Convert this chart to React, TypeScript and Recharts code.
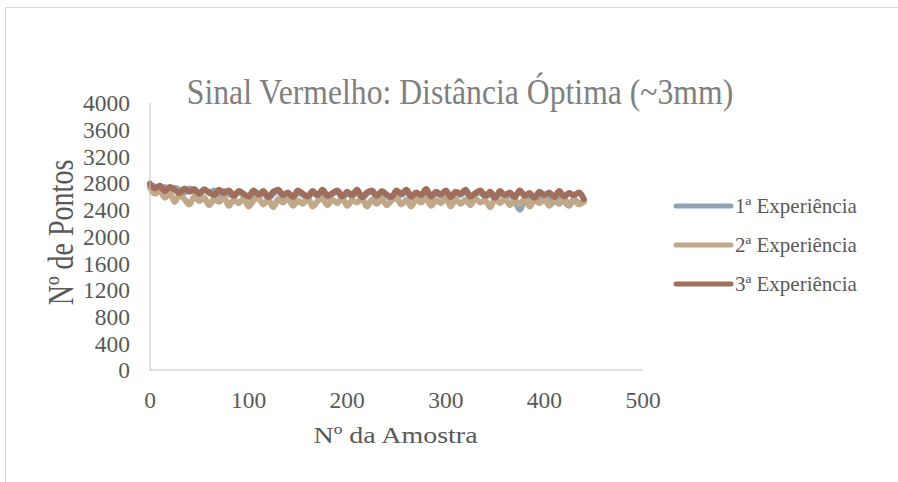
import React from "react";
import { LineChart, Line, XAxis, YAxis, Legend } from "recharts";

const samples = [
  0, 5, 10, 15, 20, 25, 30, 35, 40, 45, 50, 55, 60, 65, 70, 75, 80, 85, 90, 95,
  100, 105, 110, 115, 120, 125, 130, 135, 140, 145, 150, 155, 160, 165, 170, 175, 180, 185, 190, 195,
  200, 205, 210, 215, 220, 225, 230, 235, 240, 245, 250, 255, 260, 265, 270, 275, 280, 285, 290, 295,
  300, 305, 310, 315, 320, 325, 330, 335, 340, 345, 350, 355, 360, 365, 370, 375, 380, 385, 390, 395,
  400, 405, 410, 415, 420, 425, 430, 435, 440,
];

const exp1 = [
  2770, 2750, 2700, 2740, 2680, 2730, 2700, 2660, 2720, 2680, 2640, 2710, 2650, 2690, 2620, 2680, 2640, 2600, 2670, 2620,
  2580, 2660, 2610, 2650, 2570, 2640, 2680, 2600, 2650, 2570, 2660, 2620, 2580, 2670, 2600, 2680, 2590, 2640, 2670, 2580,
  2650, 2600, 2680, 2570, 2640, 2670, 2590, 2660, 2610, 2570, 2670, 2620, 2680, 2580, 2640, 2600, 2690, 2580, 2650, 2610,
  2660, 2570, 2650, 2620, 2680, 2580, 2630, 2660, 2590, 2640, 2560, 2650, 2590, 2620, 2540, 2400, 2560, 2590, 2530, 2600,
  2550, 2590, 2510, 2580, 2530, 2460, 2560, 2500, 2530,
];

const exp2 = [
  2730, 2640, 2690, 2580, 2650, 2520, 2620, 2560, 2480, 2600, 2530, 2580, 2470, 2560, 2520, 2590, 2460, 2550, 2500, 2570,
  2450, 2540, 2580, 2480, 2550, 2440, 2560, 2510, 2570, 2460, 2540, 2490, 2580, 2450, 2530, 2560, 2470, 2550, 2500, 2580,
  2460, 2540, 2510, 2570, 2450, 2550, 2490, 2560, 2470, 2540, 2580, 2480, 2550, 2450, 2560, 2510, 2570, 2460, 2540, 2500,
  2580, 2450, 2560, 2490, 2550, 2470, 2570, 2510, 2540, 2440, 2560, 2500, 2570, 2470, 2540, 2490, 2560, 2450, 2550, 2500,
  2560, 2460, 2540, 2490, 2570, 2470, 2540, 2480, 2520,
];

const exp3 = [
  2790, 2720, 2760, 2680, 2740, 2700, 2650, 2720, 2670, 2710, 2640, 2700, 2660, 2620, 2700, 2650, 2690, 2610, 2680, 2640,
  2600, 2690, 2630, 2680, 2590, 2670, 2700, 2620, 2660, 2590, 2690, 2640, 2600, 2680, 2620, 2700, 2610, 2650, 2690, 2600,
  2670, 2620, 2700, 2590, 2660, 2690, 2610, 2680, 2630, 2590, 2690, 2640, 2700, 2600, 2660, 2620, 2710, 2600, 2670, 2630,
  2690, 2590, 2670, 2640, 2700, 2600, 2650, 2690, 2610, 2670, 2580, 2680, 2620, 2660, 2590, 2690, 2610, 2650, 2580, 2670,
  2620, 2660, 2590, 2680, 2600, 2650, 2620, 2660, 2560,
];

const xTicks = [0, 100, 200, 300, 400, 500];
const yTicks = [0, 400, 800, 1200, 1600, 2000, 2400, 2800, 3200, 3600, 4000];

const seriesNames = ["1ª Experiência", "2ª Experiência", "3ª Experiência"];
const colors = ["#8EA5B7", "#C0A888", "#A06E5C"];

const data = samples.map((x, i) => ({ x, s1: exp1[i], s2: exp2[i], s3: exp3[i] }));

const font = "'Liberation Serif', 'Times New Roman', serif";
const tickStyle = { fontFamily: font, fontSize: 23.5, fill: "#595959" };

const renderLegend = (props: any) => {
  const items = props.payload || [];
  return (
    <svg width={200} height={110}>
      {items.map((item: any, i: number) => {
        const cy = 16 + i * 39;
        return (
          <g key={item.value}>
            <line x1={6} x2={61} y1={cy} y2={cy} stroke={item.color} strokeWidth={5} strokeLinecap="round" />
            <text x={65} y={cy + 7} fontFamily={font} fontSize={21} fill="#595959">
              {item.value}
            </text>
          </g>
        );
      })}
    </svg>
  );
};

export default function App() {
  return (
    <div style={{ position: "fixed", left: 0, top: 0, width: 898, height: 482, background: "#fff" }}>
      <div
        style={{
          position: "absolute",
          left: 5,
          top: 7,
          width: 893,
          height: 475,
          borderTop: "1px solid #D9D9D9",
          borderLeft: "1px solid #D9D9D9",
        }}
      />
      <LineChart width={898} height={482} data={data} margin={{ top: 103, right: 255, bottom: 82, left: 90 }}>
        <XAxis
          dataKey="x"
          type="number"
          domain={[0, 500]}
          ticks={xTicks}
          interval={0}
          height={30}
          tickLine={false}
          tickMargin={15}
          axisLine={{ stroke: "#BFBFBF" }}
          tick={tickStyle}
        />
        <YAxis
          type="number"
          domain={[0, 4000]}
          ticks={yTicks}
          interval={0}
          width={60}
          tickLine={false}
          tickMargin={14}
          axisLine={{ stroke: "#BFBFBF" }}
          tick={tickStyle}
        />
        <Legend
          layout="vertical"
          align="center"
          verticalAlign="middle"
          content={renderLegend}
          wrapperStyle={{ left: 670, top: 190, width: 200, height: 110 }}
        />
        {["s1", "s2", "s3"].map((key, i) => (
          <Line
            key={key}
            type="monotone"
            dataKey={key}
            name={seriesNames[i]}
            stroke={colors[i]}
            strokeWidth={6}
            strokeLinecap="round"
            strokeLinejoin="round"
            dot={false}
            activeDot={false}
            isAnimationActive={false}
          />
        ))}
      </LineChart>
      <svg width={898} height={482} style={{ position: "absolute", left: 0, top: 0, pointerEvents: "none" }}>
        <text
          transform="translate(460,103.5) scale(1,1.1)"
          textAnchor="middle"
          fontFamily={font}
          fontSize={31.7}
          fill="#7F7F7F"
        >
          Sinal Vermelho: Distância Óptima (~3mm)
        </text>
        <text
          transform="translate(73,232.5) rotate(-90) scale(1,1.3)"
          textAnchor="middle"
          fontFamily={font}
          fontSize={28}
          fill="#595959"
        >
          Nº de Pontos
        </text>
        <text
          transform="translate(395.5,443.3) scale(1,0.85)"
          textAnchor="middle"
          fontFamily={font}
          fontSize={28}
          fill="#595959"
        >
          Nº da Amostra
        </text>
      </svg>
    </div>
  );
}
